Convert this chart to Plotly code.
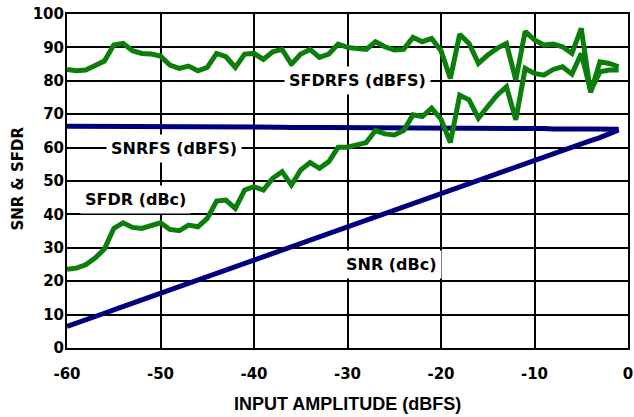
import plotly.graph_objects as go

# Input amplitude in dBFS (1 dB steps)
amplitude = list(range(-60, 0))

# SFDR referred to full scale (dBFS)
sfdrfs = [83.4, 83.0, 83.2, 84.7, 85.9, 90.7, 91.2, 89.0, 88.2, 88.0,
          87.4, 84.7, 83.7, 84.4, 83.0, 84.0, 88.2, 87.2, 84.0, 88.0,
          88.2, 86.4, 88.7, 89.4, 85.0, 88.0, 89.4, 87.0, 88.0, 91.0,
          90.0, 89.7, 89.4, 91.7, 90.2, 89.2, 89.4, 93.0, 91.7, 92.7,
          89.0, 80.7, 93.9, 91.2, 85.2, 87.7, 89.7, 91.2, 80.2, 94.8,
          92.2, 90.7, 91.0, 90.2, 88.2, 95.7, 76.5, 85.7, 85.2, 84.2]

# SFDR referred to carrier (dBc)
sfdr = [23.6, 23.9, 24.9, 26.9, 29.6, 35.8, 37.5, 36.1, 35.8, 36.8,
        37.5, 35.5, 35.1, 36.8, 36.3, 38.8, 44.0, 44.3, 41.8, 47.3,
        48.3, 47.3, 50.8, 52.8, 48.8, 53.3, 55.5, 53.8, 55.8, 60.1,
        60.1, 60.8, 61.5, 65.1, 64.1, 63.8, 65.1, 69.8, 69.3, 71.8,
        68.5, 61.5, 75.7, 74.3, 68.8, 72.3, 75.7, 78.2, 68.3, 83.7,
        82.2, 81.7, 83.4, 84.2, 82.0, 88.2, 77.0, 82.7, 83.2, 83.2]

# SNR referred to full scale (dBFS)
snrfs = [66.4, 66.4, 66.3, 66.3, 66.3, 66.3, 66.2, 66.3, 66.3, 66.2,
         66.2, 66.2, 66.2, 66.1, 66.2, 66.1, 66.2, 66.2, 66.1, 66.1,
         66.1, 66.2, 66.1, 66.1, 66.0, 66.1, 66.0, 66.0, 66.0, 66.0,
         66.0, 65.9, 66.0, 65.9, 65.9, 65.9, 65.9, 65.9, 65.8, 65.9,
         65.8, 65.8, 65.8, 65.8, 65.8, 65.7, 65.8, 65.7, 65.7, 65.7,
         65.7, 65.7, 65.6, 65.7, 65.6, 65.6, 65.6, 65.6, 65.5, 65.5]

# SNR referred to carrier (dBc)
snr = [6.5, 7.4, 8.4, 9.4, 10.4, 11.4, 12.4, 13.3, 14.3, 15.4,
       16.4, 17.3, 18.3, 19.4, 20.4, 21.4, 22.3, 23.3, 24.4, 25.4,
       26.4, 27.3, 28.3, 29.4, 30.3, 31.3, 32.4, 33.4, 34.3, 35.3,
       36.4, 37.3, 38.3, 39.3, 40.3, 41.3, 42.3, 43.3, 44.2, 45.3,
       46.3, 47.3, 48.2, 49.2, 50.3, 51.2, 52.2, 53.2, 54.2, 55.2,
       56.2, 57.2, 58.1, 59.1, 60.1, 61.1, 62.1, 63.0, 64.1, 65.3]

# tick labels (plain hyphen, as in the original)
x_ticks = [-60, -50, -40, -30, -20, -10, 0]
x_tick_text = ["-60", "-50", "-40", "-30", "-20", "-10", "0"]
y_ticks = [0, 10, 20, 30, 40, 50, 60, 70, 80, 90, 100]

green = "#0b7e0b"
navy = "#00007f"
wide_font = "DejaVu Sans"
title_font = "Liberation Sans"

fig = go.Figure()
fig.add_trace(go.Scatter(x=amplitude, y=snrfs, mode="lines", line=dict(color=navy, width=5)))
fig.add_trace(go.Scatter(x=amplitude, y=snr, mode="lines", line=dict(color=navy, width=5)))
fig.add_trace(go.Scatter(x=amplitude, y=sfdrfs, mode="lines", line=dict(color=green, width=5)))
fig.add_trace(go.Scatter(x=amplitude, y=sfdr, mode="lines", line=dict(color=green, width=5)))

# Curve labels, boxed in white so they cut through the grid
labels = [("SFDRFS (dBFS)", -28.9, 80.0),
          ("SNRFS (dBFS)", -48.6, 59.6),
          ("SFDR (dBc)", -52.7, 44.6),
          ("SNR (dBc)", -25.3, 24.9)]
for text, lx, ly in labels:
    fig.add_annotation(x=lx, y=ly, xref="x", yref="y", text=text, showarrow=False,
                       bgcolor="white", borderpad=4,
                       font=dict(family=wide_font, size=16, color="black", weight="bold"))

# Axis titles placed by hand
fig.add_annotation(x=0.5, y=-0.168, xref="paper", yref="paper", text="INPUT AMPLITUDE (dBFS)",
                   showarrow=False, xanchor="center", yanchor="middle",
                   font=dict(family=title_font, size=18, color="black", weight="bold"))
fig.add_annotation(x=-0.087, y=0.508, xref="paper", yref="paper", text="SNR & SFDR",
                   showarrow=False, textangle=-90, xanchor="center", yanchor="middle",
                   font=dict(family=wide_font, size=15, color="black", weight="bold"))

axis_style = dict(showgrid=True, gridcolor="black", gridwidth=2,
                  showline=True, linecolor="black", linewidth=2, mirror=True,
                  zeroline=False, ticks="", automargin=False, ticklabeloverflow="allow",
                  tickfont=dict(family=wide_font, size=15, color="black", weight="bold"))

fig.update_layout(
    width=634, height=417,
    margin=dict(l=67, r=6, t=14, b=69),
    paper_bgcolor="white", plot_bgcolor="white",
    showlegend=False,
    hovermode=False,
    xaxis=dict(range=[-60, 0], tickvals=x_ticks, ticktext=x_tick_text,
               ticklabelstandoff=11, **axis_style),
    yaxis=dict(range=[0, 100], tickvals=y_ticks, ticklabelstandoff=-2, **axis_style),
)

# drop the default 8px body margin so the figure fills the window exactly
fig.write_html("out.html", config={"displayModeBar": False},
               post_script="document.body.style.margin = '0';")
